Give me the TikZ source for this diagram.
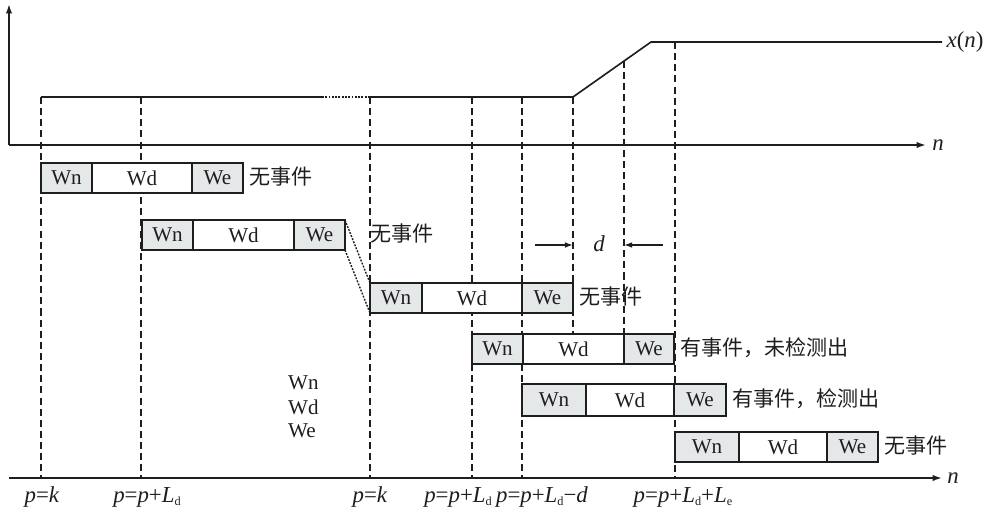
\documentclass[tikz,border=0pt]{standalone}
\usepackage{fontspec}
\setmainfont{Liberation Serif}
\newfontfamily\cjk{Noto Sans CJK SC}
\usetikzlibrary{arrows.meta}
\definecolor{cellgray}{HTML}{E4E8E8}
\definecolor{ink}{HTML}{1E1E1E}
\newcommand\lowsub[1]{\raisebox{-0.3ex}{\fontsize{10.5}{11}\selectfont #1}}
\newcommand\boxrow[8]{% name, x0,x1,x2,x3, ytop, ybot, label
  \fill[white] (#2,#6) rectangle (#5,#7);
  \fill[cellgray] (#2,#6) rectangle (#3,#7);
  \fill[cellgray] (#4,#6) rectangle (#5,#7);
  \draw[boxline] (#2,#6) rectangle (#5,#7);
  \draw[boxline] (#3,#6) -- (#3,#7);
  \draw[boxline] (#4,#6) -- (#4,#7);
  \node[lbl] (#1n) at ({(#2+#3)/2},{(#6+#7)/2}) {Wn};
  \node[lbl] (#1d) at ({(#3+#4)/2},{(#6+#7)/2}) {Wd};
  \node[lbl] (#1e) at ({(#4+#5)/2},{(#6+#7)/2}) {We};
  \node[lbl,anchor=west] (#1t) at ({#5+6},{(#6+#7)/2-1}) {\cjk #8};
}
\begin{document}
\begin{tikzpicture}[x=0.03cm,y=-0.03cm,
  font=\fontsize{18}{21}\selectfont, color=ink,
  axis/.style={line width=1.6pt,-{Latex[length=8pt,width=5.5pt]}},
  sig/.style={line width=1.4pt},
  guide/.style={line width=1.3pt,dash pattern=on 6pt off 3.5pt},
  boxline/.style={line width=1.5pt},
  lbl/.style={inner sep=0pt},
  tick/.style={inner sep=0pt,font=\fontsize{19.5}{22}\selectfont},
  dimarrow/.style={line width=1.2pt,-{Latex[length=7pt,width=5pt]}}]
\useasboundingbox (0,0) rectangle (985,513);
% guide lines
\draw[guide] (41,97) -- (41,478);
\draw[guide] (141,97) -- (141,478);
\draw[guide] (370,97) -- (370,478);
\draw[guide] (472,97) -- (472,478);
\draw[guide] (522,97) -- (522,478);
\draw[guide] (573,97) -- (573,334);
\draw[guide] (624,61) -- (624,334);
\draw[guide] (675,42) -- (675,478);
% axes
\draw[axis] (9,145) -- (9,4);
\draw[axis] (9,145) -- (926,145);
\node[tick] (ntop) at (938,145) {\textit{n}};
\draw[axis] (9,478) -- (942,478);
\node[tick] (nbot) at (953,478) {\textit{n}};
% signal
\draw[sig] (41,97) -- (322,97);
\draw[line width=1.3pt,dash pattern=on 1.6pt off 1.2pt] (322,97) -- (369,97);
\draw[sig] (369,97) -- (573,97) -- (651,42) -- (942,42);
\node[tick] (xn) at (965,42) {\textit{x}(\textit{n})};
% boxes
\boxrow{ra}{41}{92}{192}{243}{163}{193}{无事件}
\boxrow{rb}{142}{193}{294}{345}{220}{250}{}
\node[lbl] (rbt) at (402,234) {\cjk 无事件};
\boxrow{rc}{370}{422}{522}{573}{283}{313}{无事件}
\boxrow{rd}{472}{523}{624}{674}{334}{364}{有事件，未检测出}
\boxrow{re}{522}{586}{674}{726}{384}{416}{有事件，检测出}
\boxrow{rf}{675}{739}{827}{878}{432}{462}{无事件}
% dotted shift connectors
\draw[line width=1.2pt,dash pattern=on 1.6pt off 1.2pt] (345,220) -- (370,283);
\draw[line width=1.2pt,dash pattern=on 1.6pt off 1.2pt] (345,250) -- (370,313);
% d dimension
\draw[dimarrow] (535,245) -- (573,245);
\draw[dimarrow] (663,245) -- (624,245);
\node[tick] (dl) at (599,244) {\textit{d}};
% stacked legend
\node[lbl,anchor=west] (lgn) at (288,383) {Wn};
\node[lbl,anchor=west] (lgd) at (288,407) {Wd};
\node[lbl,anchor=west] (lge) at (288,431) {We};
% bottom labels
\node[tick] (b1) at (42,497) {\textit{p}=\textit{k}};
\node[tick] (b2) at (147,497) {\textit{p}=\textit{p}+\textit{L}\lowsub{d}};
\node[tick] (b3) at (370,497) {\textit{p}=\textit{k}};
\node[tick] (b4) at (458,497) {\textit{p}=\textit{p}+\textit{L}\lowsub{d}};
\node[tick] (b5) at (542,497) {\textit{p}=\textit{p}+\textit{L}\lowsub{d}−\textit{d}};
\node[tick] (b6) at (683,497) {\textit{p}=\textit{p}+\textit{L}\lowsub{d}+\textit{L}\lowsub{e}};
\end{tikzpicture}
\end{document}
